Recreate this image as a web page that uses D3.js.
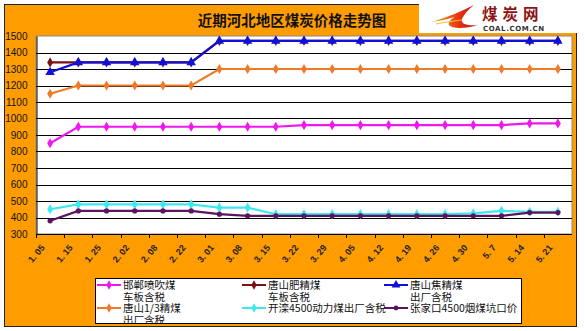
<!DOCTYPE html>
<html>
<head>
<meta charset="utf-8">
<script src="https://cdn.jsdelivr.net/npm/d3@7"></script>
<style>
  html, body { margin: 0; padding: 0; background: #fff; }
  svg { display: block; }
</style>
</head>
<body>
<svg id="chart" width="585" height="331"></svg>
<script>
// Weekly price dates (x axis)
const dates = ["1. 05", "1. 15", "1. 25", "2. 02", "2. 08", "2. 22", "3. 01", "3. 08", "3. 15", "3. 22",
               "3. 29", "4. 05", "4. 12", "4. 19", "4. 26", "4. 30", "5. 7", "5. 14", "5. 21"];

// Y axis tick values
const yTicks = [300, 400, 500, 600, 700, 800, 900, 1000, 1100, 1200, 1300, 1400, 1500];

// Prices (yuan/ton) per series
const handanPenchui   = [850, 950, 950, 950, 950, 950, 950, 950, 950, 960, 960, 960, 960, 960, 960, 960, 960, 970, 970];
const tangshanFeijing = [1340, 1340, 1340, 1340, 1340, 1340, 1470, 1470, 1470, 1470, 1470, 1470, 1470, 1470, 1470, 1470, 1470, 1470, 1470];
const tangshanJiaojing= [1280, 1340, 1340, 1340, 1340, 1340, 1470, 1470, 1470, 1470, 1470, 1470, 1470, 1470, 1470, 1470, 1470, 1470, 1470];
const tangshan13      = [1150, 1200, 1200, 1200, 1200, 1200, 1300, 1300, 1300, 1300, 1300, 1300, 1300, 1300, 1300, 1300, 1300, 1300, 1300];
const kailuan4500     = [450, 480, 480, 480, 480, 480, 460, 460, 420, 420, 420, 420, 420, 420, 420, 425, 440, 435, 435];
const zhangjiakou4500 = [380, 440, 440, 440, 440, 440, 420, 410, 410, 410, 410, 410, 410, 410, 410, 410, 410, 430, 430];

const seriesNames = [
  ["邯郸喷吹煤", "车板含税"],
  ["唐山肥精煤", "车板含税"],
  ["唐山焦精煤", "出厂含税"],
  ["唐山1/3精煤", "出厂含税"],
  ["开滦4500动力煤出厂含税"],
  ["张家口4500烟煤坑口价"]
];
const seriesValues = [handanPenchui, tangshanFeijing, tangshanJiaojing, tangshan13, kailuan4500, zhangjiakou4500];
const seriesColors = ["#f018f0", "#7a1212", "#1010d8", "#f07a28", "#3ee8f0", "#5c1460"];
const seriesMarkers = ["diamond", "diamond", "triangle", "diamond", "diamond", "circle"];

const title = "近期河北地区煤炭价格走势图";

const svg = d3.select("#chart");
const ORANGE = "#ff9c00";

// Outer frame
svg.append("rect").attr("x", 0).attr("y", 0).attr("width", 585).attr("height", 331).attr("fill", "#fff");
svg.append("rect").attr("x", 4.5).attr("y", 4.5).attr("width", 572).attr("height", 322)
  .attr("fill", ORANGE).attr("stroke", "#222").attr("stroke-width", 1);

// Title
svg.append("text").attr("x", 292).attr("y", 26).attr("text-anchor", "middle")
  .attr("font-family", "Noto Sans CJK SC").attr("font-weight", "bold").attr("font-size", 14.5)
  .attr("fill", "#111").text(title);

// Logo block (top right)
const logo = svg.append("g");
logo.append("rect").attr("x", 419).attr("y", 0).attr("width", 166).attr("height", 33).attr("fill", "#fff");
const grad = svg.append("defs").append("linearGradient").attr("id", "swoosh").attr("x1", "0").attr("x2", "1");
grad.append("stop").attr("offset", "0").attr("stop-color", "#f6b020");
grad.append("stop").attr("offset", "0.6").attr("stop-color", "#e83010");
grad.append("stop").attr("offset", "1").attr("stop-color", "#c01010");
logo.append("path")
  .attr("d", "M432,22 C448,17 462,11 474,5 C468,10 464,14 462,19 C461,24 466,26 478,25 C466,29 452,29 449,25 C448,22 451,19 455,17 C447,19 440,21 432,22 Z")
  .attr("fill", "url(#swoosh)");
logo.append("path")
  .attr("d", "M436,24 C446,22 454,21 462,20")
  .attr("stroke", "#f0c040").attr("stroke-width", 1.2).attr("fill", "none");
logo.append("text").attr("x", 482).attr("y", 19.5)
  .attr("font-family", "Noto Sans CJK SC").attr("font-weight", "bold").attr("font-size", 15.5)
  .attr("letter-spacing", 5).attr("fill", "#8c1414").text("煤炭网");
logo.append("text").attr("x", 483).attr("y", 31)
  .attr("font-family", "DejaVu Sans").attr("font-weight", "bold").attr("font-size", 7)
  .attr("letter-spacing", 0.6).attr("fill", "#333").text("COAL.COM.CN");

// Plot area
const plot = { left: 36, right: 572, top: 36, bottom: 234 };
const x = d3.scaleBand().domain(dates).range([plot.left, plot.right]);
const y = d3.scaleLinear().domain([300, 1500]).range([plot.bottom, plot.top]);

svg.append("rect").attr("x", plot.left).attr("y", plot.top)
  .attr("width", plot.right - plot.left).attr("height", plot.bottom - plot.top)
  .attr("fill", "#fff").attr("stroke", "#888").attr("stroke-width", 1);

// Horizontal gridlines
svg.append("g").selectAll("line").data(yTicks.filter(v => v > 300 && v < 1500)).join("line")
  .attr("x1", plot.left).attr("x2", plot.right)
  .attr("y1", d => Math.round(y(d)) + 0.5).attr("y2", d => Math.round(y(d)) + 0.5)
  .attr("stroke", "#000").attr("stroke-width", 1);

// Y axis
const yAxis = svg.append("g").attr("transform", `translate(${plot.left + 0.5},0)`)
  .call(d3.axisLeft(y).tickValues(yTicks).tickFormat(d3.format("d")).tickSize(0).tickPadding(9));
yAxis.select(".domain").attr("stroke", "#000");
yAxis.selectAll("text").attr("font-family", "Liberation Sans").attr("font-size", 10).attr("fill", "#111");

// X axis: ticks at category boundaries
svg.append("line").attr("x1", plot.left).attr("x2", plot.right)
  .attr("y1", plot.bottom + 0.5).attr("y2", plot.bottom + 0.5).attr("stroke", "#000");
svg.append("g").selectAll("line").data(dates).join("line")
  .attr("x1", d => Math.round(x(d)) + 0.5).attr("x2", d => Math.round(x(d)) + 0.5)
  .attr("y1", plot.bottom).attr("y2", plot.bottom + 4).attr("stroke", "#000");
svg.append("g").selectAll("text").data(dates).join("text")
  .attr("transform", d => `translate(${x(d) + x.bandwidth() / 2 - 5},${plot.bottom + 14}) rotate(-50)`)
  .attr("text-anchor", "end")
  .attr("font-family", "Liberation Sans").attr("font-weight", "bold").attr("font-size", 9)
  .attr("fill", "#222").text(d => d);

// Marker drawing
function marker(sel, type, color, size) {
  if (type === "triangle") {
    sel.append("path").attr("d", d3.symbol(d3.symbolTriangle, size * 1.3)()).attr("fill", color);
  } else if (type === "circle") {
    sel.append("circle").attr("r", Math.sqrt(size) / 2.1).attr("fill", color);
  } else {
    sel.append("path").attr("d", d3.symbol(d3.symbolDiamond, size)()).attr("fill", color);
  }
}

// Series lines
const line = d3.line().x((d, i) => x(dates[i]) + x.bandwidth() / 2).y(d => y(d));
const drawOrder = [0, 3, 4, 5, 1, 2];
drawOrder.forEach(si => {
  const g = svg.append("g");
  g.append("path").datum(seriesValues[si]).attr("d", line)
    .attr("fill", "none").attr("stroke", seriesColors[si]).attr("stroke-width", 2.2);
  g.selectAll("g.m").data(seriesValues[si]).join("g").attr("class", "m")
    .attr("transform", (d, i) => `translate(${x(dates[i]) + x.bandwidth() / 2},${y(d)})`)
    .each(function () { marker(d3.select(this), seriesMarkers[si], seriesColors[si], 30); });
});

// Legend
const legendBox = { x: 95.5, y: 278.5, w: 426, h: 45 };
const legend = svg.append("g");
legend.append("defs").append("clipPath").attr("id", "legclip")
  .append("rect").attr("x", legendBox.x).attr("y", legendBox.y).attr("width", legendBox.w).attr("height", legendBox.h);
legend.append("rect").attr("x", legendBox.x).attr("y", legendBox.y)
  .attr("width", legendBox.w).attr("height", legendBox.h)
  .attr("fill", "#fff").attr("stroke", "#000").attr("stroke-width", 1);
const colX = [97, 242, 384];
const rowY = [285, 308];
const items = legend.append("g").attr("clip-path", "url(#legclip)");
seriesNames.forEach((names, i) => {
  const cx = colX[i % 3], cy = rowY[Math.floor(i / 3)];
  const it = items.append("g");
  it.append("line").attr("x1", cx).attr("x2", cx + 24).attr("y1", cy).attr("y2", cy)
    .attr("stroke", seriesColors[i]).attr("stroke-width", 2.2);
  const m = it.append("g").attr("transform", `translate(${cx + 12},${cy})`);
  marker(m, seriesMarkers[i], seriesColors[i], 26);
  // wrapped series name: one text element, one tspan per line
  const label = it.append("text").attr("y", cy + 4)
    .attr("font-family", "Noto Sans CJK SC").attr("font-size", 10.5).attr("fill", "#111");
  names.forEach((t, k) => {
    label.append("tspan").attr("x", cx + 26).attr("dy", k === 0 ? 0 : 11.5).text(t);
  });
});
</script>
</body>
</html>
